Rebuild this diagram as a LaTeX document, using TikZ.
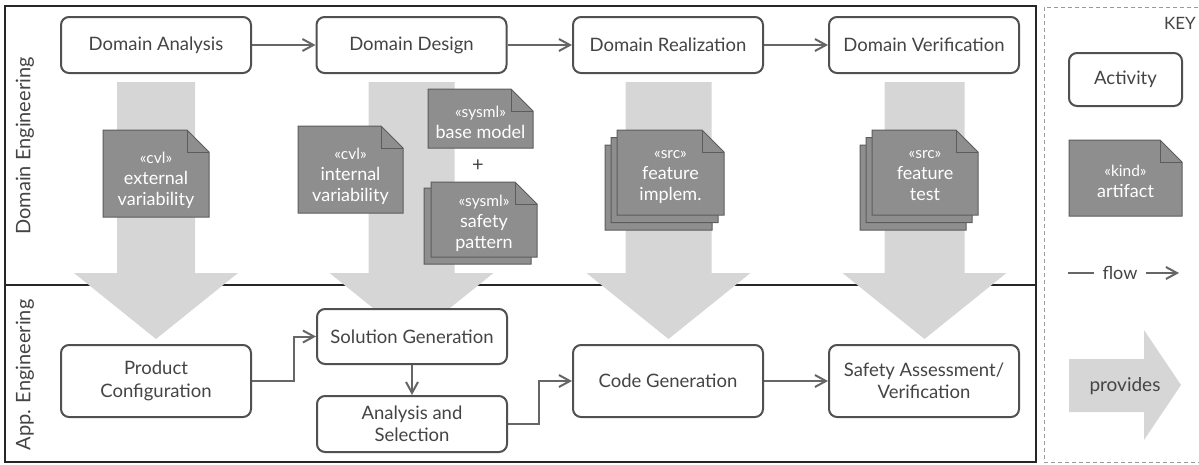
\documentclass[tikz,border=0pt]{standalone}
\usepackage{fontspec}
\setmainfont{Lato}
\usetikzlibrary{arrows.meta}
\definecolor{arrowgray}{HTML}{D6D6D6}
\definecolor{docfill}{HTML}{8E8E8E}
\definecolor{docline}{HTML}{5C5C5C}
\definecolor{boxline}{HTML}{505050}
\definecolor{textgray}{HTML}{444444}
\definecolor{flowline}{HTML}{666666}
\definecolor{keyline}{HTML}{9A9A9A}
\newcommand\stereofont{\fontsize{15.5}{21}\selectfont}
\newcommand\docpoly[4]{%
  \filldraw[docsty] (#1,#2) -- ({#3-22},#2) -- (#3,{#2+22}) -- (#3,#4) -- (#1,#4) -- cycle;
  \draw[docsty,fill=none] ({#3-22},#2) |- (#3,{#2+22});}
\newcommand\bigarrow[2]{% center x, shaft width
  \fill[arrowgray] ({#1-#2/2},82) -- ({#1+#2/2},82) -- ({#1+#2/2},273) -- ({#1+82},273)
     -- (#1,339) -- ({#1-82},273) -- ({#1-#2/2},273) -- cycle;}
\begin{document}
\begin{tikzpicture}[x=1pt,y=-1pt,
  act/.style={draw=boxline, line width=2pt, rounded corners=8pt, fill=white, text=textgray,
    font=\fontsize{18.5}{22.5}\selectfont, align=center, minimum width=190pt, inner sep=0pt},
  docsty/.style={fill=docfill, draw=docline, line width=1pt},
  doctext/.style={text=white, align=center, font=\fontsize{18}{21}\selectfont, inner sep=0pt},
  flow/.style={draw=flowline, line width=2pt, -{Straight Barb[length=11pt,width=12pt,line width=2pt]}},
  lbl/.style={text=textgray, font=\fontsize{18}{22}\selectfont}
]
\useasboundingbox (0,0) rectangle (1199,464);
% frame
\draw[line width=1.2pt, draw=black!85] (5,6) rectangle (1036,462);
\draw[line width=1.2pt, draw=black!85] (5,285) -- (1036,285);
% key frame
\draw[keyline, line width=1pt, dash pattern=on 4pt off 3pt] (1205,7) -- (1044,7) -- (1044,462) -- (1205,462);
% big provides arrows
\bigarrow{156}{78}
\bigarrow{411.5}{86}
\bigarrow{668.5}{86}
\bigarrow{924.5}{80}
% lane labels
\node[lbl, rotate=90, font=\fontsize{20}{22}\selectfont] (laneD) at (25,146) {Domain Engineering};
\node[lbl, rotate=90, font=\fontsize{20}{22}\selectfont] (laneA) at (25,375) {App. Engineering};
% artifacts
\docpoly{103}{130}{209}{217}
\node[doctext] (d1) at (156,180) {{\stereofont «cvl»}\\external\\variability};
\docpoly{298}{126}{403}{213}
\node[doctext] (d2) at (350.5,176) {{\stereofont «cvl»}\\internal\\variability};
\docpoly{428}{89}{533}{148}
\node[doctext] (d3) at (480.5,122) {{\stereofont «sysml»}\\base model};
\node[text=textgray, font=\fontsize{20}{22}\selectfont] (plus) at (478,166) {+};
\docpoly{424}{188}{531}{264}
\docpoly{431}{182}{537}{257}
\node[doctext] (d4) at (484,223) {{\stereofont «sysml»}\\safety\\pattern};
\docpoly{605}{145}{712}{230}
\docpoly{611}{137.5}{718}{222.5}
\docpoly{617}{130}{724}{215}
\node[doctext] (d5) at (670.5,177) {{\stereofont «src»}\\feature\\implem.};
\docpoly{860}{145}{966}{230}
\docpoly{866}{137.5}{972}{222.5}
\docpoly{872}{130}{978}{215}
\node[doctext] (d6) at (925,176) {{\stereofont «src»}\\feature\\test};
% activities
\node[act, minimum height=56pt] (DA) at (156,45) {Domain Analysis};
\node[act, minimum height=56pt] (DD) at (411.5,45) {Domain Design};
\node[act, minimum height=56pt] (DR) at (668,45) {Domain Realization};
\node[act, minimum height=56pt] (DV) at (924,45) {Domain Verification};
\node[act, minimum height=72pt] (PC) at (156,381) {Product\\Configuration};
\node[act, minimum height=55pt] (SG) at (412,336.5) {Solution Generation};
\node[act, minimum height=56pt] (AS) at (412,424) {Analysis and\\Selection};
\node[act, minimum height=72pt] (CG) at (668,381) {Code Generation};
\node[act, minimum height=72pt] (SA) at (924,381) {Safety Assessment/\\Verification};
% flows
\draw[flow] (DA) -- (DD);
\draw[flow] (DD) -- (DR);
\draw[flow] (DR) -- (DV);
\draw[flow] (PC.east) -- ++(42,0) |- (SG.west);
\draw[flow] (SG) -- (AS);
\draw[flow] (AS.east) -- ++(31,0) |- (CG.west);
\draw[flow] (CG) -- (SA);
% key
\node[text=textgray, font=\fontsize{17}{20}\selectfont, anchor=east, inner sep=0pt] (key) at (1196,23) {KEY};
\node[act, minimum width=113pt, minimum height=53pt] (kact) at (1125.5,79.5) {Activity};
\docpoly{1069}{140}{1182}{216}
\node[doctext] (kdoc) at (1125.5,181) {{\stereofont «kind»}\\artifact};
\node[lbl, inner xsep=8.5pt, inner ysep=0pt] (kflow) at (1120,273) {flow};
\coordinate (kf1) at (1068,273);
\coordinate (kf2) at (1179,273);
\draw[draw=flowline, line width=2pt] (kf1) -- (kflow.west);
\draw[flow] (kflow.east) -- (kf2);
\fill[arrowgray] (1069,359) -- (1144,359) -- (1144,330) -- (1181,385) -- (1144,440) -- (1144,412) -- (1069,412) -- cycle;
\node[lbl, font=\fontsize{19}{22}\selectfont] (kprov) at (1125,386) {provides};
\end{tikzpicture}
\end{document}
